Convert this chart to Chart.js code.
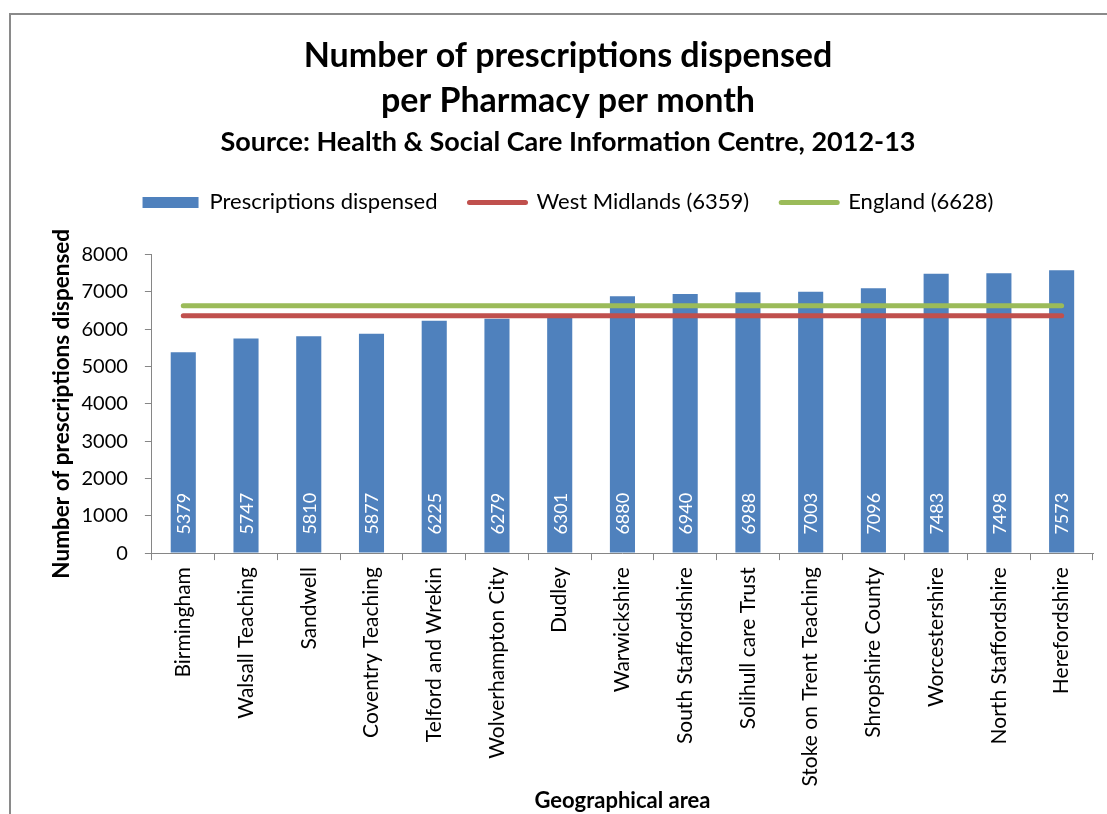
<!DOCTYPE html>
<html>
<head>
<meta charset="utf-8">
<script src="https://cdn.jsdelivr.net/npm/chart.js@4/dist/chart.umd.min.js"></script>
<style>
body { margin: 0; background: #fff; overflow: hidden; }
</style>
</head>
<body>
<canvas id="prescChart" width="1107" height="814"></canvas>
<script>
const areas = ['Birmingham', 'Walsall Teaching', 'Sandwell', 'Coventry Teaching', 'Telford and Wrekin',
    'Wolverhampton City', 'Dudley', 'Warwickshire', 'South Staffordshire', 'Solihull care Trust',
    'Stoke on Trent Teaching', 'Shropshire County', 'Worcestershire', 'North Staffordshire', 'Herefordshire'];
const prescriptions = [5379, 5747, 5810, 5877, 6225, 6279, 6301, 6880, 6940, 6988, 7003, 7096, 7483, 7498, 7573];
const westMidlands = 6359;
const england = 6628;
const yMax = 8000;
const yStep = 1000;

const FONT = 'Lato';

// grey frame round the chart (only left and top edges show)
const frame = {
    id: 'frame',
    beforeDraw(chart) {
        const ctx = chart.ctx;
        ctx.save();
        ctx.fillStyle = '#fff';
        ctx.fillRect(0, 0, chart.width, chart.height);
        ctx.fillStyle = '#8a8a8a';
        ctx.fillRect(9, 13, 2, chart.height - 13);
        ctx.fillRect(9, 13, chart.width - 9, 2);
        ctx.restore();
    }
};

// extra room between legend and plot
const legendGap = {
    id: 'legendGap',
    beforeUpdate(chart) {
        const legend = chart.legend;
        if (legend && !legend._gapDone) {
            const fit = legend.fit;
            legend.fit = function () {
                fit.call(this);
                this.height += 31;
            };
            legend._gapDone = true;
        }
    }
};

// white values written upwards inside each bar
const barLabels = {
    id: 'barLabels',
    afterDatasetsDraw(chart) {
        const meta = chart.getDatasetMeta(0);
        const ctx = chart.ctx;
        ctx.save();
        ctx.fillStyle = '#fff';
        ctx.font = '18px ' + FONT;
        ctx.textAlign = 'left';
        ctx.textBaseline = 'middle';
        meta.data.forEach((bar, i) => {
            ctx.save();
            ctx.translate(bar.x, bar.base - 18);
            ctx.rotate(-Math.PI / 2);
            ctx.fillText(String(prescriptions[i]), 0, 1);
            ctx.restore();
        });
        ctx.restore();
    }
};

const ctx = document.getElementById('prescChart').getContext('2d');
const chart = new Chart(ctx, {
    type: 'bar',
    data: {
        labels: areas,
        datasets: [{
                label: 'Prescriptions dispensed',
                data: prescriptions,
                backgroundColor: '#4f81bd',
                borderWidth: 0,
                barPercentage: 0.4,
                categoryPercentage: 1,
                order: 1
            },
            {
                type: 'line',
                label: 'West Midlands (' + westMidlands + ')',
                data: areas.map(() => westMidlands),
                borderColor: '#c0504d',
                backgroundColor: '#c0504d',
                borderWidth: 5,
                borderCapStyle: 'round',
                pointRadius: 0,
                order: 0
            },
            {
                type: 'line',
                label: 'England (' + england + ')',
                data: areas.map(() => england),
                borderColor: '#9bbb59',
                backgroundColor: '#9bbb59',
                borderWidth: 5,
                borderCapStyle: 'round',
                pointRadius: 0,
                order: 0
            }
        ]
    },
    options: {
        responsive: false,
        animation: false,
        layout: {
            padding: { left: 43, right: 14, top: 34, bottom: 0 }
        },
        plugins: {
            tooltip: { enabled: false },
            title: {
                display: true,
                text: ['Number of prescriptions dispensed', 'per Pharmacy per month'],
                color: '#000',
                font: { family: FONT, size: 34, weight: 'bold', lineHeight: 45 / 34 },
                padding: { top: 0, bottom: 2 }
            },
            subtitle: {
                display: true,
                text: 'Source: Health & Social Care Information Centre, 2012-13',
                color: '#000',
                font: { family: FONT, size: 27, weight: 'bold', lineHeight: 1.2 },
                padding: { top: 0, bottom: 1 }
            },
            legend: {
                labels: {
                    color: '#000',
                    font: { family: FONT, size: 22 },
                    usePointStyle: true,
                    pointStyleWidth: 56,
                    boxHeight: 11,
                    padding: 32,
                    generateLabels(chart) {
                        const items = Chart.defaults.plugins.legend.labels.generateLabels(chart);
                        items.forEach(item => {
                            const ds = chart.data.datasets[item.datasetIndex];
                            if (ds.type === 'line') {
                                item.pointStyle = 'line';
                                item.lineWidth = 5;
                                item.lineCap = 'round';
                                item.strokeStyle = ds.borderColor;
                            } else {
                                item.pointStyle = 'rect';
                                item.lineWidth = 0;
                            }
                        });
                        return items.sort((a, b) => a.datasetIndex - b.datasetIndex);
                    }
                }
            }
        },
        scales: {
            x: {
                grid: { drawOnChartArea: false, drawTicks: true, tickLength: 7, color: '#868686' },
                border: { color: '#868686' },
                ticks: {
                    autoSkip: false,
                    minRotation: 90,
                    maxRotation: 90,
                    padding: 7,
                    color: '#000',
                    font: { family: FONT, size: 21 }
                },
                title: {
                    display: true,
                    text: 'Geographical area',
                    color: '#000',
                    font: { family: FONT, size: 22, weight: 'bold' },
                    padding: { top: -6, bottom: 0 }
                }
            },
            y: {
                min: 0,
                max: yMax,
                grid: { drawOnChartArea: false, drawTicks: true, tickLength: 7, color: '#868686' },
                border: { color: '#868686' },
                ticks: {
                    stepSize: yStep,
                    padding: 17,
                    color: '#000',
                    font: { family: FONT, size: 20 },
                    callback: value => String(value)
                },
                title: {
                    display: true,
                    text: 'Number of prescriptions dispensed',
                    color: '#000',
                    font: { family: FONT, size: 22.5, weight: 'bold' },
                    padding: { top: 5.5, bottom: -11 }
                }
            }
        }
    },
    plugins: [frame, legendGap, barLabels]
});
</script>
</body>
</html>
